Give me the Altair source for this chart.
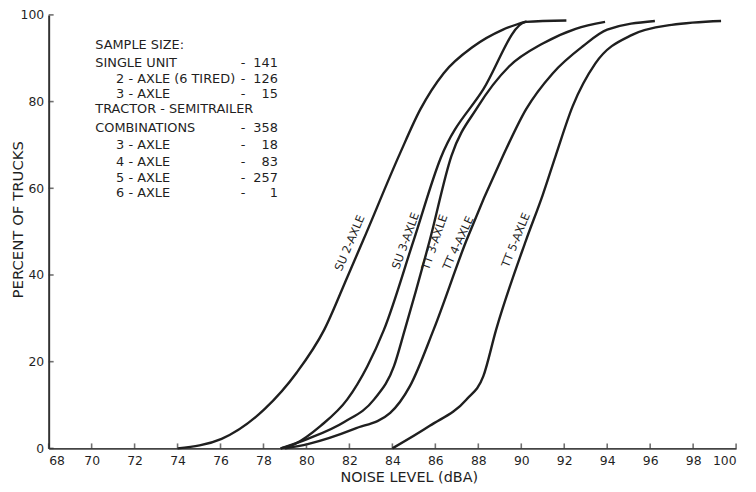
import altair as alt
import pandas as pd

# ---- data ----
series_names = ["SU 2-AXLE", "SU 3-AXLE", "TT 3-AXLE", "TT 4-AXLE", "TT 5-AXLE"]

su2_x = [74.0, 76.05, 78.06, 79.55, 80.83, 81.9, 82.64, 84.35, 85.3, 86.38, 87.77, 89.15, 90.25]
su2_y = [0.0, 2.2, 9.1, 17.5, 27.4, 39.5, 48.0, 68.0, 78.2, 86.5, 92.7, 96.6, 98.5]

su3_x = [78.8, 79.45, 80.66, 81.9, 82.83, 83.61, 84.99, 86.25, 88.23, 90.22, 92.1]
su3_y = [0.0, 1.0, 5.2, 11.3, 18.9, 27.4, 48.0, 67.0, 82.8, 98.4, 98.7]

tt3_x = [78.8, 80.06, 81.76, 83.15, 84.07, 84.58, 85.74, 86.75, 87.95, 89.43, 91.0, 92.53, 93.9]
tt3_y = [0.0, 2.2, 6.1, 11.3, 18.9, 27.4, 48.0, 67.5, 78.6, 88.1, 93.4, 96.8, 98.4]

tt4_x = [79.0, 80.06, 82.23, 83.9, 84.81, 85.92, 87.45, 89.15, 90.22, 91.46, 92.85, 94.0, 96.22]
tt4_y = [0.0, 1.0, 4.5, 8.2, 14.3, 27.4, 48.0, 67.5, 78.2, 86.5, 92.7, 96.6, 98.6]

tt5_x = [84.0, 85.74, 87.45, 88.23, 88.83, 90.22, 91.0, 91.6, 92.39, 93.45, 95.16, 97.0, 99.3]
tt5_y = [0.0, 5.2, 11.3, 16.6, 27.4, 48.0, 58.5, 67.5, 78.9, 88.8, 95.4, 97.7, 98.6]

x_ticks = [68, 70, 72, 74, 76, 78, 80, 82, 84, 86, 88, 90, 92, 94, 96, 98, 100]
y_ticks = [0, 20, 40, 60, 80, 100]

# curve labels (centre position in data units, text angle)
curve_label_text = ["SU 2-AXLE", "SU 3-AXLE", "TT 3-AXLE", "TT 4-AXLE", "TT 5-AXLE"]
curve_label_x = [82.05, 84.65, 86.0, 87.1, 89.78]
curve_label_y = [47.3, 47.8, 47.5, 47.3, 48.0]
curve_label_angle = [293, 290, 289, 295, 292]

# sample-size note
note_labels = ["SAMPLE SIZE:", "SINGLE UNIT", "2 - AXLE (6 TIRED)", "3 - AXLE",
               "TRACTOR - SEMITRAILER", "COMBINATIONS", "3 - AXLE", "4 - AXLE",
               "5 - AXLE", "6 - AXLE"]
note_indent = [0, 0, 1, 1, 0, 0, 1, 1, 1, 1]
note_counts = ["", "141", "126", "15", "", "358", "18", "83", "257", "1"]
note_y = [93.1, 89.0, 85.1, 81.7, 78.2, 73.9, 70.0, 66.1, 62.4, 58.8]

# ---- tables ----
rows = []
for name, xs, ys in zip(series_names,
                        [su2_x, su3_x, tt3_x, tt4_x, tt5_x],
                        [su2_y, su3_y, tt3_y, tt4_y, tt5_y]):
    for i, (a, b) in enumerate(zip(xs, ys)):
        rows.append({"series": name, "noise": a, "pct": b, "order": i})
df = pd.DataFrame(rows)

lab_df = pd.DataFrame({"label": curve_label_text, "lx": curve_label_x,
                       "ly": curve_label_y, "angle": curve_label_angle})

note_df = pd.DataFrame({
    "label": note_labels,
    "lx": [70.17 if k == 0 else 71.14 for k in note_indent],
    "ly": note_y,
    "count": note_counts,
    "dash": ["" if c == "" else "-" for c in note_counts],
    "dx": [77.05] * len(note_labels),
    "cx": [78.67] * len(note_labels),
})

xtick_df = pd.DataFrame({"t": x_ticks})
ytick_df = pd.DataFrame({"t": y_ticks})

FONT = "DejaVu Sans"
INK = "#1f1f1f"
W, H = 693, 437

xscale = alt.Scale(domain=[68, 100], nice=False, zero=False)
yscale = alt.Scale(domain=[0, 100], nice=False, zero=True)

xaxis = alt.Axis(values=x_ticks, ticks=False, tickSize=0, grid=False,
                 labelPadding=6, labelFont=FONT, labelFontSize=12.5,
                 labelColor=INK, domainColor="#444", domainWidth=2,
                 title="NOISE LEVEL (dBA)", titleFont=FONT,
                 titleFontSize=14.5, titleFontWeight="normal",
                 titleColor=INK, titleX=363, titleY=29,
                 titleAlign="center", titleBaseline="middle")
yaxis = alt.Axis(values=y_ticks, ticks=False, tickSize=0, grid=False,
                 labelPadding=5, labelFont=FONT, labelFontSize=12.5,
                 labelColor=INK, domainColor="#333", domainWidth=2,
                 title="PERCENT OF TRUCKS", titleFont=FONT,
                 titleFontSize=15, titleFontWeight="normal",
                 titleColor=INK, titleX=-31, titleY=206,
                 titleAlign="center", titleBaseline="middle",
                 titleAngle=270)


def X(field):
    return alt.X(field, scale=xscale, axis=xaxis)


def Y(field):
    return alt.Y(field, scale=yscale, axis=yaxis)


lines = alt.Chart(df).mark_line(
    interpolate="monotone", color=INK, strokeWidth=2.4
).encode(
    x=X("noise:Q"),
    y=Y("pct:Q"),
    detail="series:N",
    order="order:Q",
)

x_tick_marks = alt.Chart(xtick_df).mark_tick(
    orient="vertical", size=5, thickness=1.6, color="#333"
).encode(
    x=X("t:Q"),
    y=alt.value(H - 2.5),
)

y_tick_marks = alt.Chart(ytick_df).mark_tick(
    orient="horizontal", size=5, thickness=1.6, color="#333"
).encode(
    y=Y("t:Q"),
    x=alt.value(2.5),
)

curve_labels = alt.Chart(lab_df).mark_text(
    font=FONT, fontSize=11.5, color=INK
).encode(
    x=X("lx:Q"),
    y=Y("ly:Q"),
    text="label:N",
    angle=alt.Angle("angle:Q", scale=None),
)

note_text = alt.Chart(note_df).mark_text(
    font=FONT, fontSize=13, color=INK, align="left", baseline="middle"
).encode(
    x=X("lx:Q"),
    y=Y("ly:Q"),
    text="label:N",
)

note_dash = alt.Chart(note_df).mark_text(
    font=FONT, fontSize=13, color=INK, align="center", baseline="middle"
).encode(
    x=X("dx:Q"),
    y=Y("ly:Q"),
    text="dash:N",
)

note_count = alt.Chart(note_df).mark_text(
    font=FONT, fontSize=13, color=INK, align="right", baseline="middle"
).encode(
    x=X("cx:Q"),
    y=Y("ly:Q"),
    text="count:N",
)

chart = alt.layer(
    lines, x_tick_marks, y_tick_marks, curve_labels, note_text, note_dash, note_count
).properties(
    width=W, height=H,
    autosize=alt.AutoSizeParams(type="none"),
    padding={"left": 41, "top": 5, "right": 12, "bottom": 40},
    background="white",
).configure_view(stroke=None)

chart.save("out.html", embed_options={"renderer": "svg", "actions": False})
